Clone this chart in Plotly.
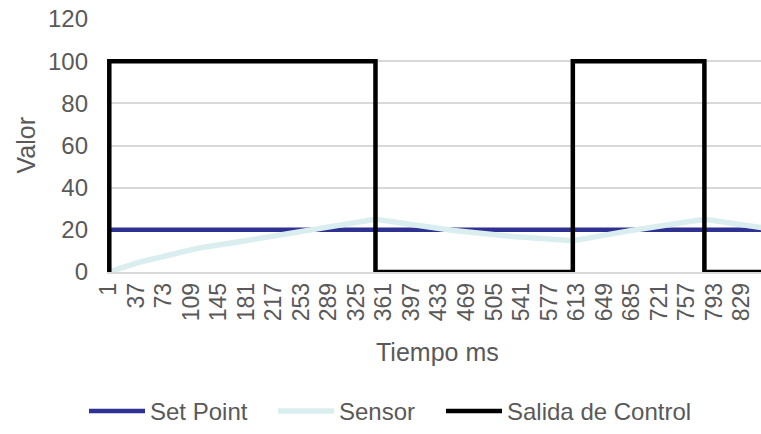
import plotly.graph_objects as go

# ---- data ----
tick_vals = [1, 37, 73, 109, 145, 181, 217, 253, 289, 325, 361, 397, 433, 469,
             505, 541, 577, 613, 649, 685, 721, 757, 793, 829]
tick_text = [str(v) for v in tick_vals]

setpoint_t = [1, 860]
setpoint_v = [20, 20]

sensor_t = [1, 40, 82, 121, 174, 252, 300, 350, 452, 530, 608, 693, 780, 860]
sensor_v = [0, 4.5, 8.2, 11.5, 14.5, 19.4, 22.3, 25.0, 19.7, 16.8, 14.8, 20.2, 25.0, 20.8]

control_t = [1, 2, 350, 608, 780, 860]
control_v = [0, 100, 0, 100, 0, 0]

y_ticks = [0, 20, 40, 60, 80, 100, 120]

FONT = "Liberation Sans, Arial, sans-serif"
GREY = "#595959"

fig = go.Figure()
fig.add_trace(go.Scatter(x=setpoint_t, y=setpoint_v, mode="lines", name="Set Point",
                         legendwidth=118,
                         line=dict(color="#2E3192", width=4.5)))
fig.add_trace(go.Scatter(x=sensor_t, y=sensor_v, mode="lines", name="Sensor",
                         legendwidth=97,
                         line=dict(color="#DAEEEF", width=5.5)))
fig.add_trace(go.Scatter(x=control_t, y=control_v, mode="lines", name="Salida de Control",
                         legendwidth=190,
                         line=dict(color="#000000", width=4.5, shape="hv")))

fig.update_layout(
    width=761, height=434,
    margin=dict(l=107, r=0, t=19, b=161),
    paper_bgcolor="white", plot_bgcolor="white",
    font=dict(family=FONT, size=24, color=GREY),
    showlegend=True,
    legend=dict(orientation="h", x=(84 - 107) / 654, xanchor="left", y=-0.55, yanchor="middle",
                font=dict(size=24, color=GREY), itemwidth=56,
                bgcolor="rgba(0,0,0,0)"),
    xaxis=dict(range=[-1, 854], tickmode="array", tickvals=tick_vals, ticktext=tick_text,
               tickangle=-90, showgrid=False, zeroline=False, showline=True,
               linecolor="#D9D9D9", linewidth=1.5, ticks="",
               tickfont=dict(size=23, color=GREY)),
    yaxis=dict(range=[0, 120], tickmode="array", tickvals=y_ticks,
               showgrid=True, gridcolor="#D9D9D9", gridwidth=1.5,
               zeroline=False, showline=False, ticks="", ticklabelstandoff=18,
               tickfont=dict(size=24, color=GREY)),
    annotations=[
        dict(text="Tiempo ms", xref="paper", yref="paper", x=(437 - 107) / 654,
             y=-(353 - 273) / 254, xanchor="center", yanchor="middle",
             showarrow=False, font=dict(size=25, color=GREY)),
        dict(text="Valor", xref="paper", yref="paper", x=-(107 - 25) / 654,
             y=(273 - 146) / 254, xanchor="center", yanchor="middle", textangle=-90,
             showarrow=False, font=dict(size=25, color=GREY)),
    ],
)

fig.write_html("out.html")
